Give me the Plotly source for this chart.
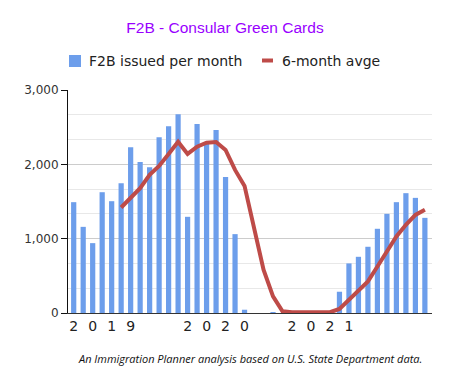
import plotly.graph_objects as go

# --- data ---
month_index = list(range(38))
issued = [1491, 1159, 940, 1625, 1504, 1746, 2230, 2032, 1961, 2364, 2512, 2673,
          1294, 2543, 2280, 2462, 1831, 1061, 44, 0, 0, 10, 0, 0,
          0, 0, 0, 0, 286, 667, 756, 891, 1133, 1334, 1491, 1612, 1549, 1280]
avg_index = list(range(5, 38))
avg6 = [1419, 1545, 1679, 1858, 1979, 2140, 2305, 2140, 2238, 2292, 2301, 2194,
        1925, 1710, 1119, 582, 224, 22, 10, 10, 10, 10, 10, 54,
        179, 291, 425, 626, 828, 1029, 1186, 1320, 1388]
tick_pos = [0, 2, 4, 6, 12, 14, 16, 18, 23, 25, 27, 29]
tick_txt = ["2", "0", "1", "9", "2", "0", "2", "0", "2", "0", "2", "1"]
y_ticks = [0, 1000, 2000, 3000]
y_tick_txt = ["0", "1,000", "2,000", "3,000"]
series_names = ["F2B issued per month", "6-month avge"]
bar_color = "#6d9eeb"
line_color = "#be4b48"

# the page body has an 8px default margin; lay out in window pixels
OFF = 8
WIN_W, WIN_H = 451, 385
W, H = WIN_W - OFF, WIN_H - OFF
# plot area in window pixels
PL, PR, PT, PB = 68, 432, 90, 313
ml, mr, mt, mb = PL - OFF, WIN_W - PR, PT - OFF, WIN_H - PB
pw = PR - PL
ph = PB - PT


def px_x(x):
    return (x - PL) / pw


def px_y(y):
    return (PB - y) / ph


fig = go.Figure()
fig.add_trace(go.Bar(x=month_index, y=issued, name=series_names[0],
                     marker=dict(color=bar_color, line=dict(width=0)), width=0.55))
fig.add_trace(go.Scatter(x=avg_index, y=avg6, name=series_names[1], mode="lines",
                         line=dict(color=line_color, width=4)))

fig.update_layout(
    width=W, height=H,
    margin=dict(l=ml, r=mr, t=mt, b=mb, autoexpand=False),
    paper_bgcolor="white", plot_bgcolor="white",
    title=dict(text="F2B - Consular Green Cards", x=(225 - OFF) / W, xanchor="center",
               xref="container", y=1 - (28 - OFF) / H, yanchor="middle", yref="container",
               font=dict(family="Liberation Sans, Arial", size=15.5, color="#9900ff")),
    showlegend=False,
    bargap=0.45,
)
fig.update_xaxes(range=[-0.6, 37.75], tickmode="array", tickvals=tick_pos, ticktext=tick_txt,
                 showgrid=False, showline=True, linecolor="#333333", linewidth=1,
                 ticks="", tickfont=dict(family="DejaVu Sans", size=14, color="#222222"),
                 zeroline=False)
fig.update_yaxes(range=[0, 3000], tickmode="array", tickvals=y_ticks, ticktext=y_tick_txt,
                 showgrid=True, gridcolor="#cccccc", gridwidth=1,
                 minor=dict(dtick=1000 / 3, showgrid=True, gridcolor="#e8e8e8", gridwidth=1, ticks=""),
                 showline=True, linecolor="#111111", linewidth=1,
                 ticks="outside", ticklen=6, tickcolor="#111111",
                 tickfont=dict(family="DejaVu Sans", size=12, color="#333333"),
                 zeroline=False)

# manual legend (matches the compact legend of the reference)
fig.add_shape(type="rect", xref="paper", yref="paper",
              x0=px_x(69), x1=px_x(81), y0=px_y(67), y1=px_y(55),
              fillcolor=bar_color, line=dict(width=0))
fig.add_shape(type="line", xref="paper", yref="paper",
              x0=px_x(262), x1=px_x(273), y0=px_y(60.5), y1=px_y(60.5),
              line=dict(color=line_color, width=4))
fig.add_annotation(text=series_names[0], xref="paper", yref="paper",
                   x=px_x(87), y=px_y(61), xanchor="left", yanchor="middle", showarrow=False,
                   font=dict(family="DejaVu Sans", size=14, color="#222222"))
fig.add_annotation(text=series_names[1], xref="paper", yref="paper",
                   x=px_x(280), y=px_y(61), xanchor="left", yanchor="middle", showarrow=False,
                   font=dict(family="DejaVu Sans", size=14, color="#222222"))

fig.add_annotation(text="<i>An Immigration Planner analysis based on U.S. State Department data.</i>",
                   xref="paper", yref="paper", x=px_x(249.5), y=px_y(358),
                   xanchor="center", yanchor="middle", showarrow=False,
                   font=dict(family="Open Sans", size=11, color="#111111"))

fig.write_html("out.html")
